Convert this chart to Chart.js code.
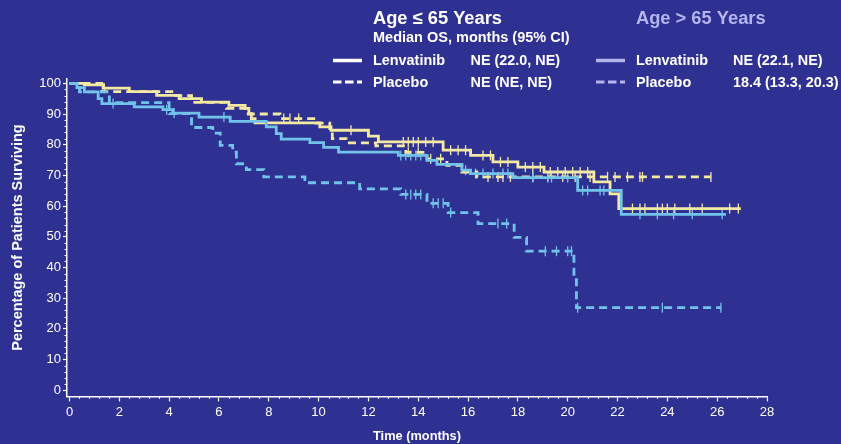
<!DOCTYPE html>
<html>
<head>
<meta charset="utf-8">
<title>Overall Survival by Age</title>
<script src="https://cdn.jsdelivr.net/npm/chart.js@4.4.1/dist/chart.umd.min.js"></script>
<style>
    html, body { margin: 0; padding: 0; background: #2e3192; }
    #chartBox { position: relative; width: 841px; height: 444px; }
</style>
</head>
<body>
<div id="chartBox"><canvas id="chartCanvas" width="841" height="444"></canvas></div>
<script>
// Axis ticks
const monthTicks = [0, 2, 4, 6, 8, 10, 12, 14, 16, 18, 20, 22, 24, 26, 28];
const percentTicks = [0, 10, 20, 30, 40, 50, 60, 70, 80, 90, 100];

// Lenvatinib, age <= 65 (month of event, % surviving after it)
const lenvYoungTimes = [0, 0.6, 1.35, 2.4, 3.5, 4.4, 5.3, 6.4, 7.05, 7.2, 7.3, 7.45, 10.05, 10.5, 12.0, 12.4, 15.0, 16.1, 17.0, 18.0, 19.05, 21.05, 21.7, 22.05, 26.95];
const lenvYoungValues = [100, 99.5, 98.4, 97.3, 96.1, 95.0, 93.9, 92.8, 91.8, 90.1, 88.5, 87.1, 85.8, 84.7, 82.8, 80.9, 78.2, 76.5, 74.4, 72.7, 71.1, 67.9, 64.0, 59.2, 59.2];
const lenvYoungCensored = [1.4, 11.3, 13.4, 13.6, 13.8, 14.0, 14.3, 14.6, 15.3, 15.6, 15.9, 16.6, 16.9, 17.3, 17.6, 18.3, 18.6, 18.9, 19.3, 19.6, 19.9, 20.2, 20.5, 20.8, 22.6, 22.9, 23.1, 23.6, 23.8, 24.0, 24.3, 24.9, 25.4, 26.5, 26.85];

// Placebo, age <= 65
const placYoungTimes = [0, 1.3, 4.2, 4.9, 6.3, 7.1, 8.45, 9.9, 10.45, 10.55, 11.1, 12.3, 13.5, 14.35, 15.15, 15.75, 16.35, 25.75];
const placYoungValues = [100, 97.3, 96.0, 93.8, 91.8, 90.0, 88.5, 87.0, 84.1, 82.0, 80.6, 79.6, 77.5, 75.4, 73.3, 71.1, 69.5, 69.5];
const placYoungCensored = [8.6, 8.85, 9.2, 13.6, 14.0, 14.5, 14.9, 16.8, 17.2, 17.4, 17.7, 18.6, 19.2, 19.8, 20.3, 20.9, 21.6, 21.9, 22.4, 22.9, 23.0, 25.75];

// Lenvatinib, age > 65
const lenvOldTimes = [0, 0.3, 0.6, 1.15, 1.3, 2.6, 3.75, 4.15, 5.2, 6.45, 7.9, 8.3, 8.5, 9.65, 10.2, 10.8, 13.2, 14.35, 14.75, 15.75, 16.1, 17.8, 20.4, 22.15, 26.35];
const lenvOldValues = [100, 98.6, 97.2, 95.0, 93.4, 92.3, 91.4, 90.3, 89.0, 87.6, 85.8, 83.6, 81.8, 80.7, 79.1, 77.6, 76.5, 74.9, 73.6, 71.7, 70.6, 69.3, 65.1, 57.3, 57.3];
const lenvOldCensored = [1.75, 3.9, 4.2, 6.2, 13.3, 13.5, 13.7, 13.9, 14.1, 15.9, 16.3, 16.6, 17.0, 17.4, 17.6, 18.6, 19.2, 19.35, 20.0, 20.6, 20.8, 21.3, 21.45, 22.9, 23.6, 24.25, 25.0, 26.2];

// Placebo, age > 65
const placOldTimes = [0, 0.4, 1.6, 4.0, 4.9, 5.75, 6.05, 6.55, 6.7, 7.1, 7.8, 9.45, 11.65, 13.3, 14.35, 15.2, 16.4, 17.85, 18.35, 20.25, 20.35, 26.15];
const placOldValues = [100, 97.2, 93.7, 90.1, 85.6, 83.8, 79.8, 77.6, 73.8, 71.9, 69.5, 67.6, 65.6, 63.8, 60.9, 57.9, 54.3, 49.8, 45.3, 36.0, 26.9, 26.9];
const placOldCensored = [13.5, 13.7, 13.9, 14.1, 14.6, 14.8, 15.0, 15.3, 17.2, 17.55, 19.1, 19.55, 20.0, 20.15, 20.4, 23.8, 26.15];

// Legend texts
const groupTitles = ['Age \u2264 65 Years', 'Age > 65 Years'];
const legendSubtitle = 'Median OS, months (95% CI)';
const armNames = ['Lenvatinib', 'Placebo'];
const medianYoung = ['NE (22.0, NE)', 'NE (NE, NE)'];
const medianOld = ['NE (22.1, NE)', '18.4 (13.3, 20.3)'];

const YELLOW = '#f4e9a3';
const BLUE = '#72c3ea';
const LAVENDER = '#b4b5ee';
const FONT = "'Liberation Sans', Arial, sans-serif";

// Function to turn event times/values into step points
function toSteps(times, values) {
    return times.map((t, i) => ({ x: t, y: values[i] }));
}

// Function to place each censored patient on its curve
function toCensorMarks(times, values, censored) {
    return censored.map(t => {
        let y = values[0];
        for (let i = 0; i < times.length; i++) {
            if (times[i] <= t) y = values[i];
        }
        return { x: t, y: y };
    });
}

function curveDataset(times, values, color, dashed) {
    return {
        type: 'line',
        data: toSteps(times, values),
        stepped: true,
        borderColor: color,
        borderWidth: 2.8,
        borderDash: dashed ? [8, 5] : [],
        pointRadius: 0,
        fill: false,
        clip: false
    };
}

function censorDataset(times, values, censored, color) {
    return {
        type: 'scatter',
        data: toCensorMarks(times, values, censored),
        pointStyle: 'line',
        rotation: 90,
        radius: 5,
        borderColor: color,
        backgroundColor: color,
        borderWidth: 1.3,
        clip: false
    };
}

// Small ticks between the labelled ones
const minorTicksPlugin = {
    id: 'minorTicks',
    afterDraw(chart) {
        const ctx = chart.ctx;
        const xs = chart.scales.x;
        const ys = chart.scales.y;
        ctx.save();
        ctx.strokeStyle = '#ffffff';
        ctx.lineWidth = 1;
        ctx.beginPath();
        for (let i = 1; i < 70; i++) {
            if (i % 5 === 0) continue;
            const px = Math.round(xs.getPixelForValue(i * 0.4)) + 0.5;
            ctx.moveTo(px, xs.top);
            ctx.lineTo(px, xs.top + 2.5);
        }
        for (let i = 1; i < 50; i++) {
            if (i % 5 === 0) continue;
            const py = Math.round(ys.getPixelForValue(i * 2)) + 0.5;
            ctx.moveTo(ys.right, py);
            ctx.lineTo(ys.right - 2.5, py);
        }
        ctx.stroke();
        ctx.restore();
    }
};

// Legend block above the plot
const legendPlugin = {
    id: 'kmLegend',
    afterDraw(chart) {
        const ctx = chart.ctx;
        ctx.save();
        ctx.textBaseline = 'alphabetic';
        ctx.textAlign = 'left';

        ctx.font = 'bold 18.3px ' + FONT;
        ctx.fillStyle = '#ffffff';
        ctx.fillText(groupTitles[0], 373, 23.5);
        ctx.fillStyle = LAVENDER;
        ctx.fillText(groupTitles[1], 636, 23.5);

        ctx.font = 'bold 14.5px ' + FONT;
        ctx.fillStyle = '#ffffff';
        ctx.fillText(legendSubtitle, 373, 42);

        const rows = [65, 87];
        ctx.font = 'bold 14.4px ' + FONT;
        rows.forEach((base, i) => {
            ctx.fillStyle = '#ffffff';
            ctx.fillText(armNames[i], 373, base);
            ctx.fillText(medianYoung[i], 470.5, base);
            ctx.fillText(armNames[i], 636, base);
            ctx.fillText(medianOld[i], 733, base);
        });

        // line samples
        const drawSample = (x, y, color, dashed) => {
            ctx.beginPath();
            ctx.strokeStyle = color;
            ctx.lineWidth = dashed ? 3 : 3.5;
            ctx.setLineDash(dashed ? [8.5, 3.5] : []);
            ctx.moveTo(x, y);
            ctx.lineTo(x + 29, y);
            ctx.stroke();
        };
        drawSample(333, 60.5, '#ffffff', false);
        drawSample(333, 82, '#ffffff', true);
        drawSample(596, 60.5, LAVENDER, false);
        drawSample(596, 82, LAVENDER, true);
        ctx.restore();
    }
};

function drawChart() {
    try {
        const ctx = document.getElementById('chartCanvas').getContext('2d');
        new Chart(ctx, {
            data: {
                datasets: [
                    curveDataset(placOldTimes, placOldValues, BLUE, true),
                    curveDataset(lenvOldTimes, lenvOldValues, BLUE, false),
                    curveDataset(placYoungTimes, placYoungValues, YELLOW, true),
                    curveDataset(lenvYoungTimes, lenvYoungValues, YELLOW, false),
                    censorDataset(placOldTimes, placOldValues, placOldCensored, BLUE),
                    censorDataset(lenvOldTimes, lenvOldValues, lenvOldCensored, BLUE),
                    censorDataset(placYoungTimes, placYoungValues, placYoungCensored, YELLOW),
                    censorDataset(lenvYoungTimes, lenvYoungValues, lenvYoungCensored, YELLOW)
                ]
            },
            options: {
                responsive: false,
                animation: false,
                events: [],
                layout: { padding: { left: 0, right: 74, top: 78.7, bottom: 0 } },
                plugins: { legend: { display: false }, tooltip: { enabled: false } },
                scales: {
                    x: {
                        type: 'linear',
                        min: -0.1,
                        max: 28,
                        afterBuildTicks: s => { s.ticks = monthTicks.map(v => ({ value: v })); },
                        afterFit: s => { s.height = 47.6; },
                        grid: { drawOnChartArea: false, drawTicks: true, tickLength: 5, tickColor: '#ffffff', tickWidth: 1.2 },
                        border: { display: true, color: '#ffffff', width: 1.5 },
                        ticks: { color: '#ffffff', font: { family: FONT, size: 13 }, padding: 3, maxRotation: 0 },
                        title: {
                            display: true,
                            text: 'Time (months)',
                            color: '#ffffff',
                            font: { family: FONT, size: 12.8, weight: 'bold', lineHeight: 1.2 },
                            padding: { top: 0, bottom: 0 }
                        }
                    },
                    y: {
                        type: 'linear',
                        min: -2,
                        max: 101.5,
                        afterBuildTicks: s => { s.ticks = percentTicks.map(v => ({ value: v })); },
                        afterFit: s => { s.width = 67; },
                        grid: { drawOnChartArea: false, drawTicks: true, tickLength: 4, tickColor: '#ffffff', tickWidth: 1.2 },
                        border: { display: true, color: '#ffffff', width: 1.5 },
                        ticks: { color: '#ffffff', font: { family: FONT, size: 13 }, padding: 2 },
                        title: {
                            display: true,
                            text: 'Percentage of Patients Surviving',
                            color: '#ffffff',
                            font: { family: FONT, size: 14.5, weight: 'bold', lineHeight: 1.2 },
                            padding: { top: 9, bottom: 0 }
                        }
                    }
                }
            },
            plugins: [minorTicksPlugin, legendPlugin]
        });
    } catch (e) {
        console.error(e);
    }
}

drawChart();
</script>
</body>
</html>
